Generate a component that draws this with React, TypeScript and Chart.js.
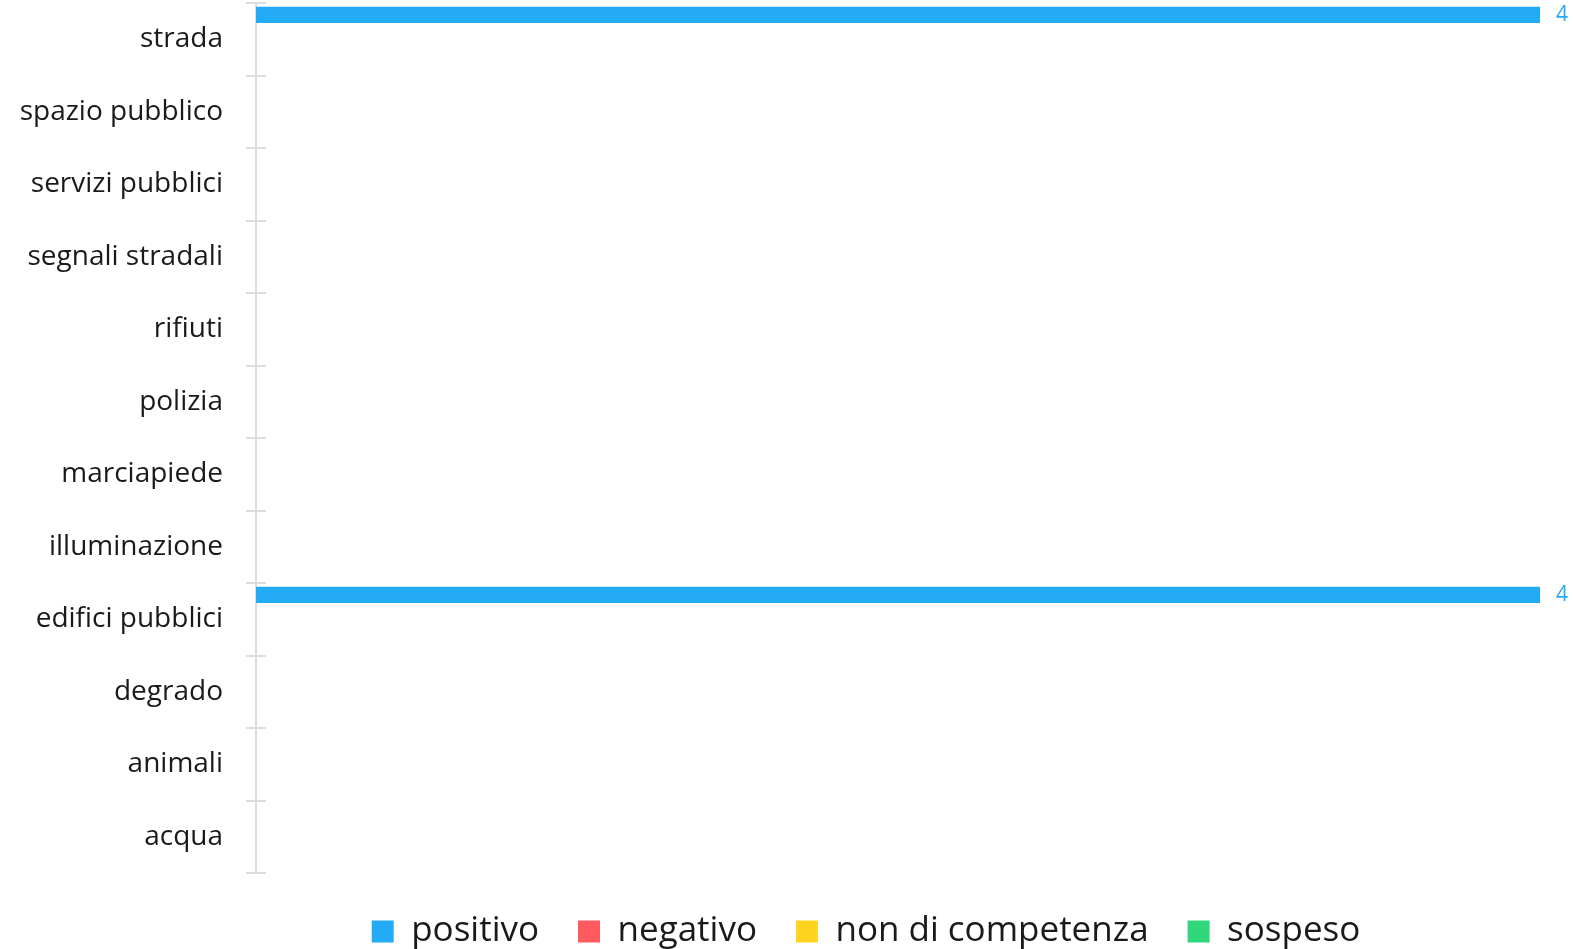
import React, { useEffect, useRef } from "react";
import { Chart, registerables } from "chart.js";

Chart.register(...registerables);

const categories = [
  "strada",
  "spazio pubblico",
  "servizi pubblici",
  "segnali stradali",
  "rifiuti",
  "polizia",
  "marciapiede",
  "illuminazione",
  "edifici pubblici",
  "degrado",
  "animali",
  "acqua",
];
const positivo = [4, 0, 0, 0, 0, 0, 0, 0, 4, 0, 0, 0];
const negativo = [0, 0, 0, 0, 0, 0, 0, 0, 0, 0, 0, 0];
const nonDiCompetenza = [0, 0, 0, 0, 0, 0, 0, 0, 0, 0, 0, 0];
const sospeso = [0, 0, 0, 0, 0, 0, 0, 0, 0, 0, 0, 0];
const seriesNames = ["positivo", "negativo", "non di competenza", "sospeso"];
const seriesColors = ["#24abf5", "#fe5a5f", "#fed420", "#2fd67a"];

const FONT = "'Open Sans', Lato, sans-serif";

const valueLabels = {
  id: "valueLabels",
  afterDatasetsDraw(chart: any) {
    const ctx = chart.ctx;
    ctx.save();
    ctx.font = `21px ${FONT}`;
    ctx.textBaseline = "middle";
    ctx.textAlign = "left";
    chart.data.datasets.forEach((ds: any, i: number) => {
      const meta = chart.getDatasetMeta(i);
      if (meta.hidden) return;
      meta.data.forEach((bar: any, j: number) => {
        const v = ds.data[j];
        if (!v) return;
        ctx.fillStyle = ds.backgroundColor;
        ctx.fillText(String(v), bar.x + 16, bar.y);
      });
    });
    ctx.restore();
  },
};

const tickExt = {
  id: "tickExt",
  afterDraw(chart: any) {
    const y = chart.scales.y;
    const ctx = chart.ctx;
    ctx.save();
    ctx.strokeStyle = "#dddddd";
    ctx.lineWidth = 2;
    const n = y.ticks.length;
    const step = y.getPixelForTick(1) - y.getPixelForTick(0);
    for (let i = 0; i <= n; i++) {
      const pos = Math.round(y.getPixelForTick(0) + (i - 0.5) * step);
      ctx.beginPath();
      ctx.moveTo(y.right, pos);
      ctx.lineTo(y.right + 10, pos);
      ctx.stroke();
    }
    ctx.restore();
  },
};

const legendShift = {
  id: "legendShift",
  afterLayout(chart: any) {
    if (chart.legend) {
      chart.legend.left -= 32;
      chart.legend.right -= 32;
      chart.legend.top += 2;
      chart.legend.bottom += 2;
    }
  },
};

export default function App() {
  const ref = useRef<HTMLCanvasElement>(null);
  useEffect(() => {
    const dataSets = [positivo, negativo, nonDiCompetenza, sospeso];
    const chart = new Chart(ref.current!, {
      type: "bar",
      data: {
        labels: categories,
        datasets: dataSets.map((d, i) => ({
          label: seriesNames[i],
          data: d,
          backgroundColor: seriesColors[i],
          borderWidth: 0,
          categoryPercentage: 0.9,
          barPercentage: 1,
        })),
      },
      options: {
        indexAxis: "y",
        animation: false,
        responsive: false,
        layout: { padding: { top: 3, right: 33, left: 0, bottom: -8 } },
        scales: {
          x: { display: false, min: 0, max: 4 },
          y: {
            afterFit(scale: any) {
              scale.paddingTop = 0;
              scale.paddingBottom = 0;
              scale.width = 256;
            },
            grid: {
              offset: true,
              drawOnChartArea: false,
              color: "#dddddd",
              lineWidth: 2,
              tickLength: 10,
            },
            border: { color: "#dddddd", width: 2 },
            ticks: {
              color: "#1a1a1a",
              padding: 23,
              font: { family: FONT, size: 28 },
            },
          },
        },
        plugins: {
          legend: {
            position: "bottom",
            fullSize: false,
            labels: {
              boxWidth: 22,
              boxHeight: 22,
              color: "#1a1a1a",
              padding: 39,
              font: { family: FONT, size: 35 },
            },
          },
          tooltip: { enabled: false },
        },
      },
      plugins: [valueLabels, tickExt, legendShift],
    });
    return () => chart.destroy();
  }, []);
  return (
    <div style={{ position: "fixed", left: 0, top: 0, width: 1573, height: 949, background: "#fff" }}>
      <canvas ref={ref} width={1573} height={949} />
    </div>
  );
}
